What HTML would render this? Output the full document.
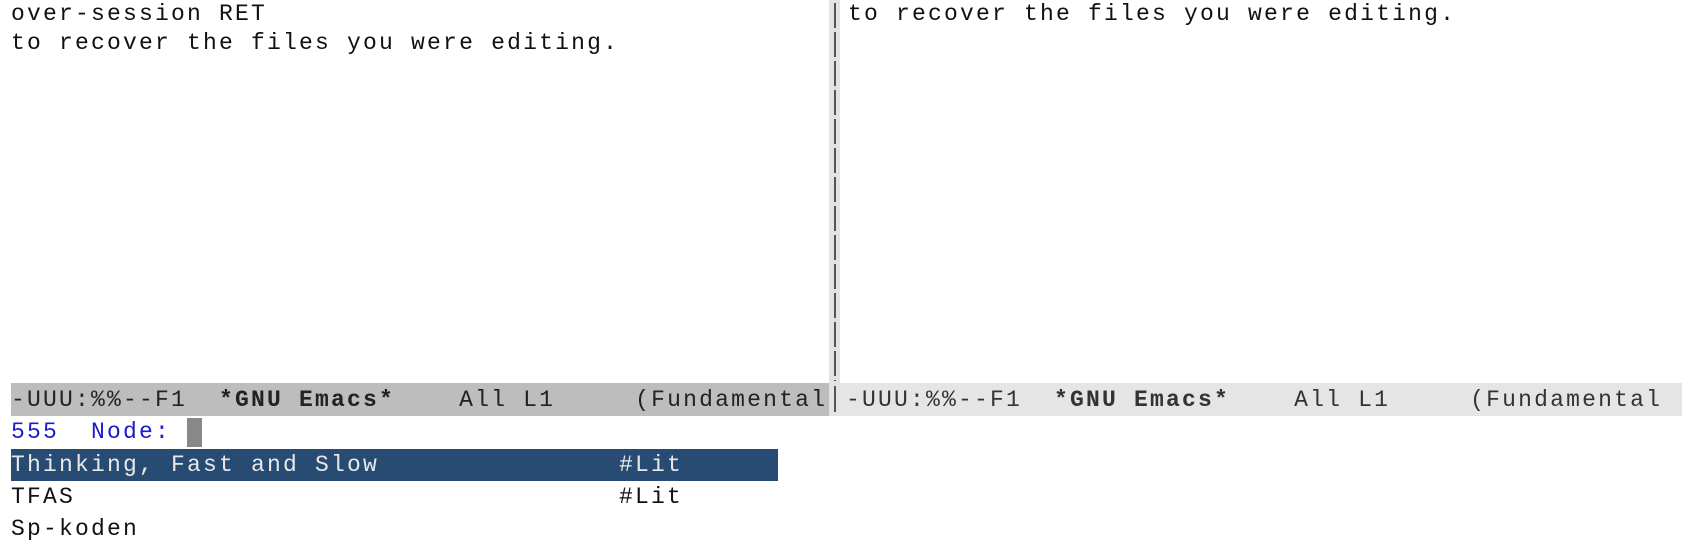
<!DOCTYPE html>
<html><head><meta charset="utf-8"><style>
html,body{margin:0;padding:0;background:#fff;width:1684px;height:548px;overflow:hidden;position:relative}
.t{position:absolute;white-space:pre;font-family:"Liberation Mono","DejaVu Sans Mono",monospace;font-size:23px;letter-spacing:2.2px;line-height:31px;color:#111}
.bar{position:absolute}
b{font-weight:bold}
</style></head><body>
<div class="t" style="left:11px;top:-1px">over-session RET</div>
<div class="t" style="left:11px;top:28px">to recover the files you were editing.</div>
<div class="bar" style="left:829px;top:0;width:11px;height:383px;background:#e3e3e3"></div>
<div class="bar" style="left:834px;top:3px;width:2px;height:378px;background:repeating-linear-gradient(to bottom,#555 0 25px,transparent 25px 29px)"></div>
<div class="t" style="left:848px;top:-1px">to recover the files you were editing.</div>

<div class="bar" style="left:11px;top:383px;width:818px;height:33px;background:#bdbdbd"></div>
<div class="bar" style="left:829px;top:383px;width:853px;height:33px;background:#e5e5e5"></div>
<div class="t" style="left:11px;top:385px;color:#222">-UUU:%%--F1  <b>*GNU Emacs*</b>    All L1     (Fundamental</div>
<div class="bar" style="left:834px;top:386px;width:2px;height:26px;background:#555"></div>
<div class="t" style="left:846px;top:385px;color:#333">-UUU:%%--F1  <b>*GNU Emacs*</b>    All L1     (Fundamental</div>

<div class="t" style="left:11px;top:417px;color:#1a1acd">555  Node: </div>
<div class="bar" style="left:187px;top:418px;width:15px;height:29px;background:#888"></div>

<div class="bar" style="left:11px;top:449px;width:767px;height:32px;background:#284b73"></div>
<div class="t" style="left:11px;top:450px;color:#e8e8e8">Thinking, Fast and Slow</div>
<div class="t" style="left:619px;top:450px;color:#e8e8e8">#Lit</div>
<div class="t" style="left:11px;top:482px">TFAS</div>
<div class="t" style="left:619px;top:482px">#Lit</div>
<div class="t" style="left:11px;top:514px">Sp-koden</div>
</body></html>
